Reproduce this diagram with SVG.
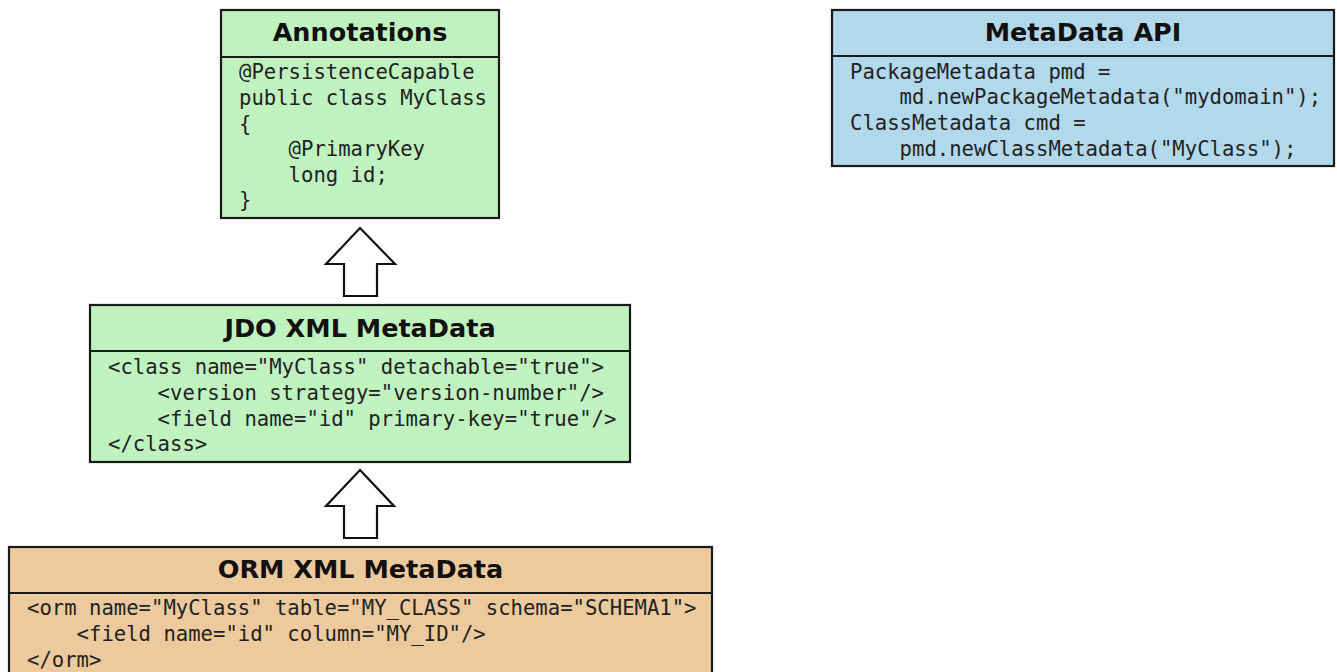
<svg xmlns="http://www.w3.org/2000/svg" width="1337" height="672" viewBox="0 0 1337 672">
<style>
.box{stroke:#1a1a1a;stroke-width:2.2}
.div{stroke:#1a1a1a;stroke-width:2.2}
.green{fill:#c0f2c0}
.blue{fill:#b2d8ec}
.tan{fill:#ecca9e}
.title{font-family:"DejaVu Sans",sans-serif;font-weight:bold;font-size:25.5px;fill:#111;text-anchor:middle}
.code{font-family:"DejaVu Sans Mono",monospace;font-size:20.6px;fill:#222;white-space:pre}
.arrow{fill:#fff;stroke:#111;stroke-width:2.2;stroke-linejoin:miter}
</style>
<rect width="1337" height="672" fill="#fff"/>
<g id="connectors">
<polygon class="arrow" points="360,228 395,264 377,264 377,296 344,296 344,264 326,264"/>
<polygon class="arrow" points="360,470 394,506 377,506 377,538 344,538 344,506 326,506"/>
</g>
<g id="annotations">
<rect class="box green" x="221" y="10" width="278" height="208"/>
<line class="div" x1="221" y1="57" x2="499" y2="57"/>
<text class="title" x="360" y="41">Annotations</text>
<text class="code" x="239" y="79">@PersistenceCapable</text>
<text class="code" x="239" y="105">public class MyClass</text>
<text class="code" x="239" y="131">{</text>
<text class="code" x="239" y="156">    @PrimaryKey</text>
<text class="code" x="239" y="182">    long id;</text>
<text class="code" x="239" y="207">}</text>
</g>
<g id="metadata-api">
<rect class="box blue" x="832" y="10" width="502" height="156"/>
<line class="div" x1="832" y1="56" x2="1334" y2="56"/>
<text class="title" x="1083" y="41">MetaData API</text>
<text class="code" x="850" y="79">PackageMetadata pmd =</text>
<text class="code" x="850" y="104">    md.newPackageMetadata("mydomain");</text>
<text class="code" x="850" y="130">ClassMetadata cmd =</text>
<text class="code" x="850" y="156">    pmd.newClassMetadata("MyClass");</text>
</g>
<g id="jdo-xml">
<rect class="box green" x="90" y="305" width="540" height="157"/>
<line class="div" x1="90" y1="351" x2="630" y2="351"/>
<text class="title" x="360" y="337">JDO XML MetaData</text>
<text class="code" x="108" y="374">&lt;class name="MyClass" detachable="true"&gt;</text>
<text class="code" x="108" y="400">    &lt;version strategy="version-number"/&gt;</text>
<text class="code" x="108" y="426">    &lt;field name="id" primary-key="true"/&gt;</text>
<text class="code" x="108" y="451">&lt;/class&gt;</text>
</g>
<g id="orm-xml">
<rect class="box tan" x="9" y="547" width="703" height="140"/>
<line class="div" x1="9" y1="593" x2="712" y2="593"/>
<text class="title" x="360.5" y="578">ORM XML MetaData</text>
<text class="code" x="27" y="615">&lt;orm name="MyClass" table="MY_CLASS" schema="SCHEMA1"&gt;</text>
<text class="code" x="27" y="641">    &lt;field name="id" column="MY_ID"/&gt;</text>
<text class="code" x="27" y="667">&lt;/orm&gt;</text>
</g>
</svg>
